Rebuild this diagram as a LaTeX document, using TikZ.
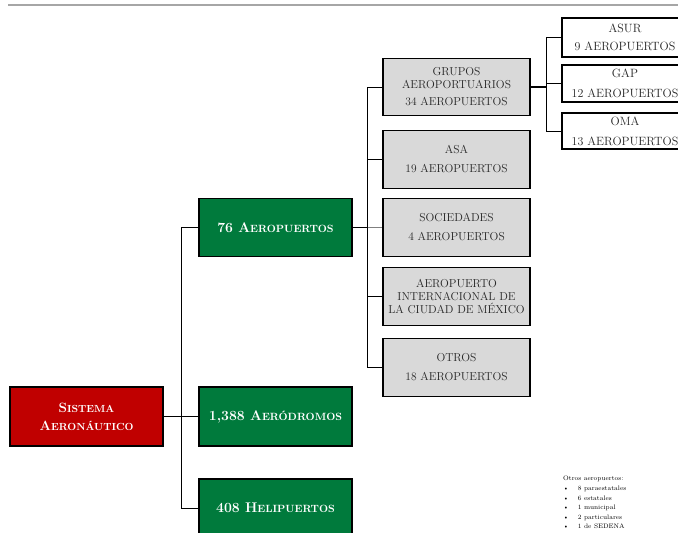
\documentclass[tikz,border=0pt]{standalone}
\usepackage{fontspec}
\definecolor{sysred}{HTML}{C00000}
\definecolor{sysgreen}{HTML}{007A3C}
\definecolor{boxgray}{HTML}{D9D9D9}
\definecolor{txtgray}{HTML}{262626}
\newcommand\gsc[1]{{\fontsize{10.5}{12}\selectfont #1}}
\newcommand\rsc[1]{{\fontsize{10.3}{12}\selectfont #1}}
\begin{document}
\begin{tikzpicture}[x=1pt,y=-1pt,
  base/.style={draw=black, line width=1.1pt, inner sep=0pt, align=center},
  redbox/.style={base, fill=sysred, text=white, minimum width=153pt, minimum height=59pt, font=\fontsize{13.5}{18}\selectfont\bfseries},
  greenbox/.style={base, fill=sysgreen, text=white, minimum width=153pt, minimum height=58pt, font=\fontsize{14}{16}\selectfont\bfseries},
  graybox/.style={base, fill=boxgray, text=txtgray, minimum width=147pt, minimum height=58pt, font=\fontsize{11.5}{13}\selectfont},
  whitebox/.style={base, fill=white, text=txtgray, minimum width=126pt, font=\fontsize{12}{12}\selectfont},
  link/.style={draw=black, line width=0.9pt},
  note/.style={inner sep=0pt, anchor=west, font=\fontsize{6.5}{7}\selectfont}]
\useasboundingbox (0,0) rectangle (678,533);
\clip (0,0) rectangle (678,533);
\fill[white] (0,0) rectangle (678,533);
\draw[draw=gray!70, line width=2pt] (8,4.5) -- (678,4.5);
% level 1
\node[redbox] (sist) at (86.5,416.5) {S\rsc{ISTEMA}\\A\rsc{ERONÁUTICO}};
% level 2
\node[greenbox] (a76) at (275.5,227.5) {76 A\gsc{EROPUERTOS}};
\node[greenbox, minimum height=59pt] (aero) at (275.5,416.5) {1,388 A\gsc{ERÓDROMOS}};
\node[greenbox] (heli) at (275.5,508) {408 H\gsc{ELIPUERTOS}};
% level 3
\node[graybox, minimum height=57pt] (grupos) at (456.5,87) {GRUPOS\\AEROPORTUARIOS\\[4pt]34 AEROPUERTOS};
\node[graybox] (asa) at (456.5,159.5) {ASA\\[6pt]19 AEROPUERTOS};
\node[graybox] (soc) at (456.5,227.5) {SOCIEDADES\\[6pt]4 AEROPUERTOS};
\node[graybox] (aicm) at (456.5,296.5) {AEROPUERTO\\INTERNACIONAL DE\\LA CIUDAD DE MÉXICO};
\node[graybox] (otros) at (456.5,367.5) {OTROS\\[6pt]18 AEROPUERTOS};
% level 4
\node[whitebox, minimum height=39pt] (asur) at (625,37.5) {ASUR\\[6pt]9 AEROPUERTOS};
\node[whitebox, minimum height=37pt] (gap) at (625,83.5) {GAP\\[8pt]12 AEROPUERTOS};
\node[whitebox, minimum height=36pt] (oma) at (625,131) {OMA\\[8pt]13 AEROPUERTOS};
% connectors level 1-2
\coordinate (t1a) at (181,227.5);
\coordinate (t1b) at (181,508);
\draw[link] (t1a) -- (t1b);
\draw[link] (sist.east) -- (sist.east -| t1a);
\draw[link] (t1a) -- (a76.west);
\draw[link] (aero.west -| t1a) -- (aero.west);
\draw[link] (heli.west -| t1a) -- (heli.west);
% connectors level 2-3
\coordinate (t2a) at (367.5,87);
\coordinate (t2b) at (367.5,367.5);
\draw[link] (t2a) -- (t2b);
\draw[link] (a76.east) -- (a76.east -| t2a);
\draw[link] (t2a) -- (grupos.west);
\draw[link] (asa.west -| t2a) -- (asa.west);
\draw[link, draw=gray] (soc.west -| t2a) -- (soc.west);
\draw[link] (aicm.west -| t2a) -- (aicm.west);
\draw[link] (otros.west -| t2a) -- (otros.west);
% connectors level 3-4
\coordinate (t3a) at (546,37.5);
\coordinate (t3b) at (546,131);
\draw[link] (t3a) -- (t3b);
\draw[link, line width=2pt] (grupos.east) -- (grupos.east -| t3a);
\draw[link] (t3a) -- (asur.west);
\draw[link] (gap.west -| t3a) -- (gap.west);
\draw[link] (oma.west -| t3a) -- (oma.west);
% note
\node[note] (n0) at (563,479) {Otros aeropuertos:};
\node[note] (n1) at (563,489) {\textbullet\hspace{9pt}8 paraestatales};
\node[note] (n2) at (563,498) {\textbullet\hspace{9pt}6 estatales};
\node[note] (n3) at (563,508) {\textbullet\hspace{9pt}1 municipal};
\node[note] (n4) at (563,517.5) {\textbullet\hspace{9pt}2 particulares};
\node[note] (n5) at (563,526.5) {\textbullet\hspace{9pt}1 de SEDENA};
\end{tikzpicture}
\end{document}
